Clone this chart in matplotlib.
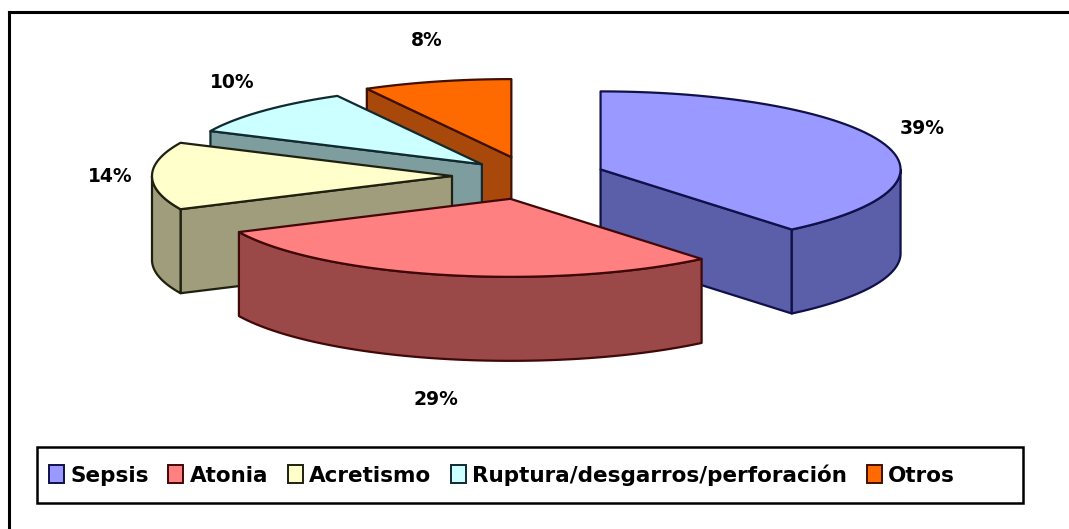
import numpy as np
import matplotlib.pyplot as plt
from matplotlib.patches import Polygon, Rectangle, Patch
from matplotlib.lines import Line2D

# data
labels = ['Sepsis', 'Atonia', 'Acretismo', 'Ruptura/desgarros/perforación', 'Otros']
values = [39, 29, 14, 10, 8]

# style
top_colors = ['#9999ff', '#ff8080', '#ffffcc', '#ccffff', '#ff6a00']
side_colors = ['#5b5ea8', '#9a4848', '#a09d7c', '#7d9d9f', '#a8480a']
edge_colors = ['#10104a', '#400808', '#202010', '#102a30', '#401000']
explode = [0.25, 0.30, 0.26, 0.22, 0.25]

TILT = 0.26    # vertical squash of the pie plane
DEPTH = 0.28   # thickness of the pie
LW = 1.6

plt.rcParams['font.family'] = ['DejaVu Sans']

fig = plt.figure(figsize=(10.69, 5.29), dpi=100)
ax = fig.add_axes([0, 0, 1, 1])
# 1 unit = 300 px, pie centre at pixel (530, 176)
ax.set_xlim(-530 / 300, 539 / 300)
ax.set_ylim(-353 / 300, 176 / 300)
ax.axis('off')


def proj(u, v, z):
    return u, v * TILT + z


def arc(cx, cy, a_from, a_to, z, n=60):
    t = np.radians(np.linspace(a_from, a_to, n))
    return [proj(cx + np.cos(x), cy + np.sin(x), z) for x in t]


total = float(sum(values))
angles = []
start = 90.0
for v in values:
    end = start - 360.0 * v / total
    angles.append((start, end))
    start = end

slices = []
for i, (a1, a2) in enumerate(angles):
    m = np.radians((a1 + a2) / 2)
    cx, cy = explode[i] * np.cos(m), explode[i] * np.sin(m)
    slices.append((i, a1, a2, cx, cy))

# paint from back to front
order = sorted(slices, key=lambda s: -s[4])
z0 = 2
for i, a1, a2, cx, cy in order:
    face = dict(facecolor=side_colors[i], edgecolor=edge_colors[i],
                linewidth=LW, joinstyle='round', zorder=z0)
    # radial faces that look toward the viewer
    for a, visible in ((a1, np.cos(np.radians(a1)) < -1e-6),
                       (a2, np.cos(np.radians(a2)) > 1e-6)):
        if visible:
            r = np.radians(a)
            pts = [proj(cx, cy, 0), proj(cx + np.cos(r), cy + np.sin(r), 0),
                   proj(cx + np.cos(r), cy + np.sin(r), -DEPTH), proj(cx, cy, -DEPTH)]
            ax.add_patch(Polygon(pts, closed=True, **face))
    # outer wall, front half only
    for k in (-1, 0, 1):
        lo = max(a2, -180 + 360 * k)
        hi = min(a1, 0 + 360 * k)
        if hi > lo:
            pts = arc(cx, cy, hi, lo, 0) + arc(cx, cy, lo, hi, -DEPTH)
            ax.add_patch(Polygon(pts, closed=True, **face))
    # top
    pts = [proj(cx, cy, 0)] + arc(cx, cy, a1, a2, 0)
    ax.add_patch(Polygon(pts, closed=True, facecolor=top_colors[i],
                         edgecolor=edge_colors[i], linewidth=LW,
                         joinstyle='round', zorder=z0 + 0.5))
    z0 += 1

# percentage labels
for i, a1, a2, cx, cy in slices:
    m = np.radians((a1 + a2) / 2)
    z = -DEPTH if np.sin(m) < -0.5 else 0
    x, y = proj(cx + np.cos(m), cy + np.sin(m), z)
    x += 0.14 * np.cos(m)
    y += 0.14 * np.sin(m)
    ax.text(x, y, f'{values[i]}%', ha='center', va='center',
            fontsize=13.5, fontweight='bold', zorder=20)

# outer frame (left and top edges visible)
fig.add_artist(Line2D([9 / 1069, 9 / 1069], [0, 1 - 12 / 529],
                      transform=fig.transFigure, color='black', lw=2.2))
fig.add_artist(Line2D([9 / 1069, 1], [1 - 12 / 529, 1 - 12 / 529],
                      transform=fig.transFigure, color='black', lw=2.2))

# legend
fig.add_artist(Rectangle((37 / 1069, 26 / 529), 986 / 1069, 56 / 529,
                         transform=fig.transFigure, fill=False,
                         edgecolor='black', lw=1.8))
handles = [Patch(facecolor=top_colors[i], edgecolor=edge_colors[i], lw=1.4)
           for i in range(len(labels))]
fig.legend(handles, labels, ncol=5, loc='center left',
           bbox_to_anchor=(38 / 1069, 1 - 475 / 529), frameon=False,
           prop={'size': 15.5, 'weight': 'bold'}, handlelength=0.7,
           handleheight=0.9, handletextpad=0.3, columnspacing=0.9,
           borderpad=0)

fig.savefig('out.png', dpi=100, facecolor='white')
